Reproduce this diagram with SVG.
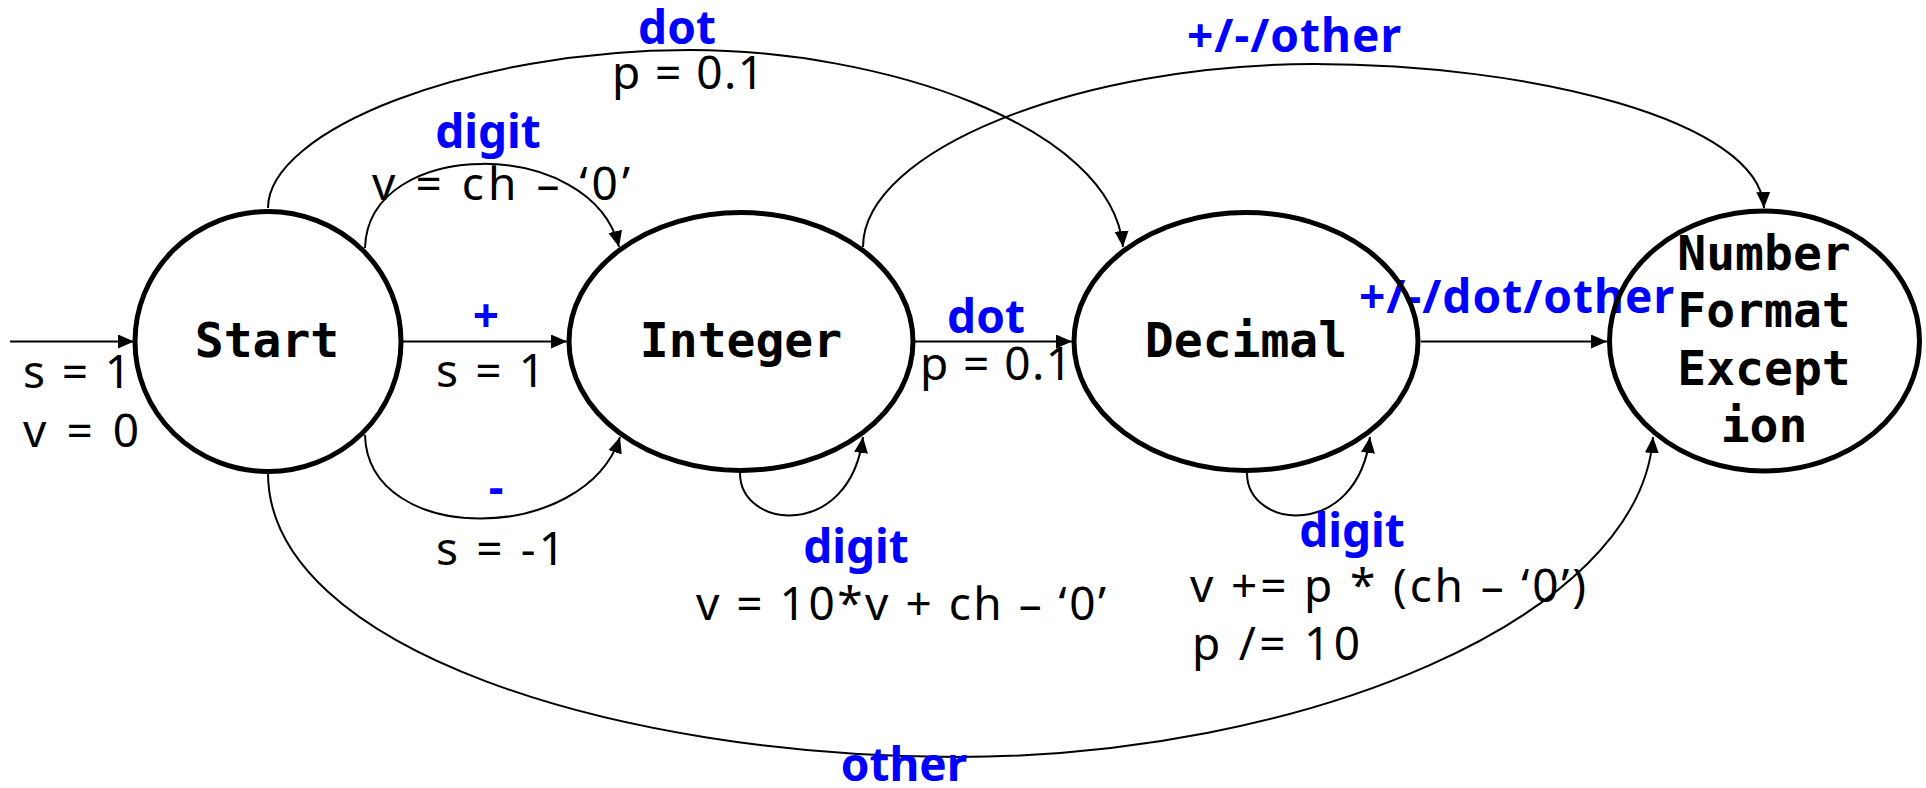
<svg xmlns="http://www.w3.org/2000/svg" width="1926" height="788" viewBox="0 0 1926 788">
<style>
.node{fill:none;stroke:#000;stroke-width:5}
.ntext{font-family:"DejaVu Sans Mono",monospace;font-weight:bold;font-size:48px;fill:#000;text-anchor:middle}
.edge{fill:none;stroke:#000;stroke-width:2;marker-end:url(#arr)}
.act{font-family:"Noto Sans","Open Sans",sans-serif;font-size:46px;fill:#000}
.ev{font-family:"Noto Sans","Open Sans",sans-serif;font-weight:bold;font-size:46px;fill:#0000FF}
</style>
<defs>
<marker id="arr" markerUnits="userSpaceOnUse" markerWidth="18" markerHeight="16" refX="16" refY="7" orient="auto">
<path d="M0,0 L16,7 L0,14 z" fill="#000"/>
</marker>
</defs>
<rect width="1926" height="788" fill="#fff"/>
<g id="connectors">
<g id="e-entry">
<path class="edge" d="M10,341.5 L134,341.5"/>
<text class="act" x="23" y="388" textLength="108">s = 1</text>
<text class="act" x="23" y="447" textLength="116">v = 0</text>
</g>
<g id="e-start-integer-plus">
<path class="edge" d="M403,341.5 L567,341.5"/>
<text class="ev" x="486" y="332" text-anchor="middle">+</text>
<text class="act" x="436" y="387" textLength="109">s = 1</text>
</g>
<g id="e-start-integer-digit">
<path class="edge" d="M365,248 C368,136 592,136 619,247"/>
<text class="ev" x="488" y="148" text-anchor="middle">digit</text>
<text class="act" x="372" y="200" textLength="258">v = ch – ‘0’</text>
</g>
<g id="e-start-integer-minus">
<path class="edge" d="M365,435 C368,547 585,545 620,437"/>
<text class="ev" x="496" y="504" text-anchor="middle">-</text>
<text class="act" x="436" y="565" textLength="129">s = -1</text>
</g>
<g id="e-start-decimal-dot">
<path class="edge" d="M268,208 C268,130 470,50 690,50 C880,50 1112,125 1123,247"/>
<text class="ev" x="677" y="44" text-anchor="middle">dot</text>
<text class="act" x="612" y="89" textLength="152">p = 0.1</text>
</g>
<g id="e-start-nfe-other">
<path class="edge" d="M268,473 C268,650 620,757 956,757 C1300,757 1640,620 1653,437"/>
<text class="ev" x="904" y="781" text-anchor="middle">other</text>
</g>
<g id="e-integer-integer-digit">
<path class="edge" d="M740,473 C740,530 850,540 863,437"/>
<text class="ev" x="856" y="563" text-anchor="middle">digit</text>
<text class="act" x="696" y="620" textLength="410">v = 10*v + ch – ‘0’</text>
</g>
<g id="e-integer-decimal-dot">
<path class="edge" d="M915,341.5 L1072,341.5"/>
<text class="ev" x="986" y="333" text-anchor="middle">dot</text>
<text class="act" x="920" y="380" textLength="152">p = 0.1</text>
</g>
<g id="e-integer-nfe-other">
<path class="edge" d="M863,247 C863,150 1080,64 1314,64 C1530,64 1760,120 1764,208"/>
<text class="ev" x="1187" y="52" textLength="214">+/-/other</text>
</g>
<g id="e-decimal-decimal-digit">
<path class="edge" d="M1247,473 C1247,530 1357,540 1370,437"/>
<text class="ev" x="1352" y="547" text-anchor="middle">digit</text>
<text class="act" x="1190" y="602" textLength="396">v += p * (ch – ‘0’)</text>
<text class="act" x="1192" y="660" textLength="168">p /= 10</text>
</g>
<g id="e-decimal-nfe">
<path class="edge" d="M1421,341.5 L1607,341.5"/>
<text class="ev" x="1359" y="313" textLength="315">+/-/dot/other</text>
</g>
</g>
<g id="n-start">
<ellipse class="node" cx="268" cy="341.5" rx="133" ry="130"/>
<text class="ntext" x="267" y="357">Start</text>
</g>
<g id="n-integer">
<ellipse class="node" cx="741" cy="341.5" rx="172" ry="129"/>
<text class="ntext" x="741" y="357">Integer</text>
</g>
<g id="n-decimal">
<ellipse class="node" cx="1246" cy="341.5" rx="172" ry="129"/>
<text class="ntext" x="1246" y="357">Decimal</text>
</g>
<g id="n-nfe">
<ellipse class="node" cx="1764.5" cy="341" rx="155" ry="130"/>
<text class="ntext" x="1764" y="270">Number</text>
<text class="ntext" x="1764" y="327">Format</text>
<text class="ntext" x="1764" y="385">Except</text>
<text class="ntext" x="1764" y="442">ion</text>
</g>
</svg>
